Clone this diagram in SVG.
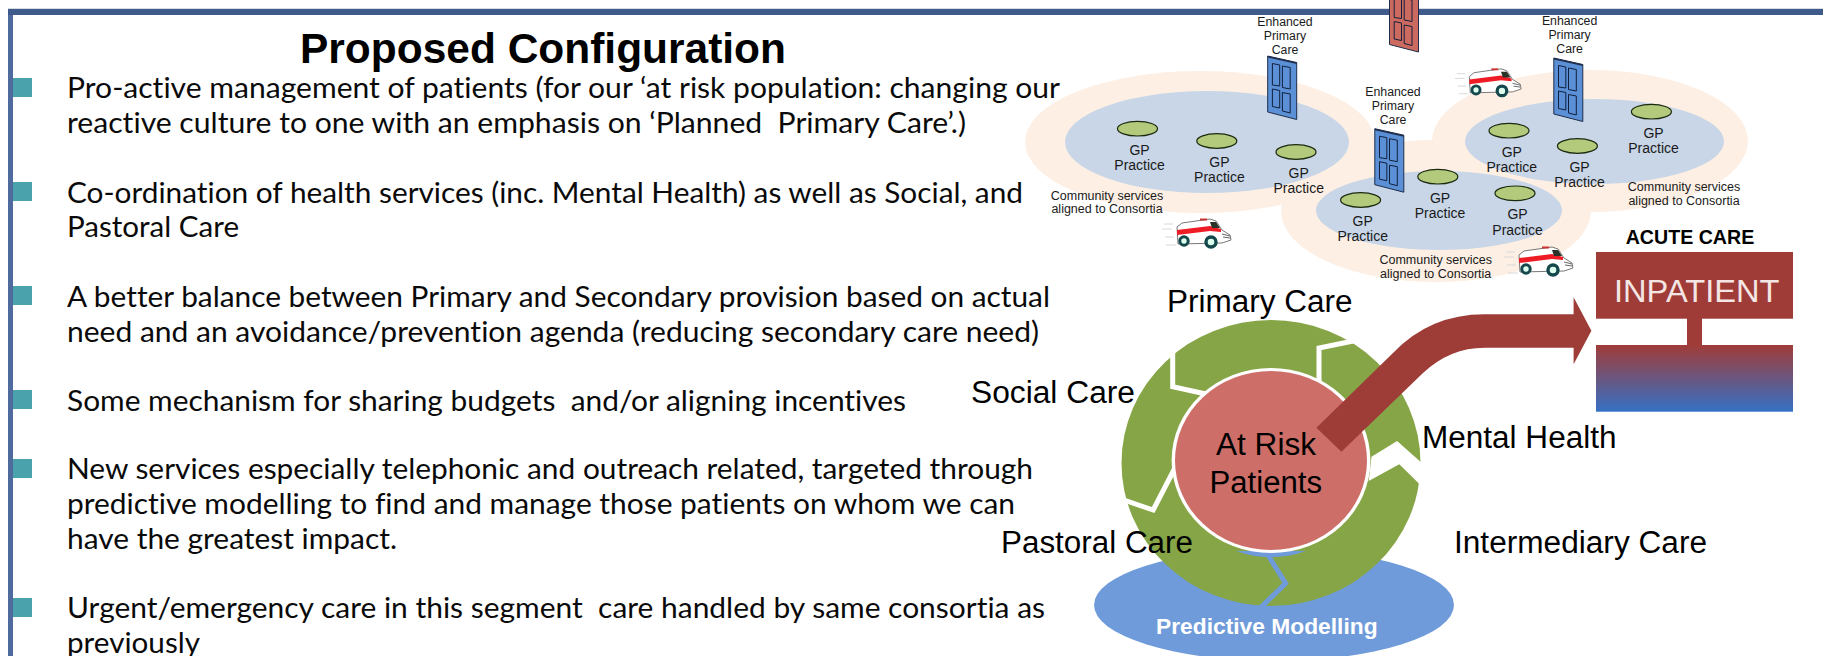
<svg xmlns="http://www.w3.org/2000/svg" width="1823" height="656" viewBox="0 0 1823 656">
<style>
.b{font-family:"Lato","Carlito","Liberation Sans",sans-serif;font-size:28px;fill:#0a0a0a;font-variant-ligatures:none}
.a{font-family:"Liberation Sans",Arial,sans-serif}
.k{fill:#000}
.c{text-anchor:middle;font-size:12.3px;fill:#1a1a1a}
.g{text-anchor:middle;font-size:14px;fill:#1a1a1a}
.s{text-anchor:middle;font-size:12.5px;fill:#1a1a1a}
.l{font-size:31px;fill:#000}
.sq{fill:#4aa3ac}
.peach{fill:#fdefe4}
.inner{fill:#c8d6e7}
.gp{fill:#b3c97c;stroke:#1c2a10;stroke-width:1.2}
.gap{fill:none;stroke:#fff;stroke-width:5;stroke-linejoin:miter}
</style>
<defs>
<linearGradient id="lo" x1="0" y1="0" x2="0" y2="1"><stop offset="0" stop-color="#a03c38"/><stop offset="1" stop-color="#3571c6"/></linearGradient>
<g id="door">
<polygon points="0,0 29,6.500 29,63.500 0,56" stroke="#1f2d4a" stroke-width="1"/>
<polygon points="0,0 29,6.500 29,8 0,1.500" fill="#1f2d4a"/>
<g fill="none" stroke="#10203c" stroke-width="1">
<polygon points="4.700,7.500 12,9 12,30 4.700,29"/>
<polygon points="14.700,10 22.500,11.500 22.500,33 14.700,31.500"/>
<polygon points="4.700,33 12,34.500 12,52 4.700,50.500"/>
<polygon points="14.700,36.500 22.500,38 22.500,57 14.700,55"/>
</g>
</g>
<g id="amb">
<path d="M4 9H13M2 14H12M5 22H14M6 30H16" stroke="#d8d8d8" stroke-width="1" fill="none"/>
<polygon points="17,12 22,8 50,4 56,6 62,15 70,20 71,25 62,28 18,29" fill="#fff" stroke="#555" stroke-width="0.8"/>
<polygon points="17,15 50,11 61,14 61,17 50,16 17,20" fill="#ee1c25"/>
<polygon points="50,7 56,7 60,13 52,13" fill="#2a3328"/>
<rect x="40" y="3.500" width="7" height="2" fill="#c33"/>
<path d="M62 19L70 21M63 22L70 23" stroke="#666" stroke-width="1"/>
<circle cx="24" cy="26" r="4.200" fill="#dfe" stroke="#14484d" stroke-width="3"/>
<circle cx="51" cy="27" r="5" fill="#dfe" stroke="#14484d" stroke-width="3.400"/>
</g>
</defs>

<rect width="1823" height="656" fill="#fff"/>
<rect x="8" y="8" width="1815" height="1.300" fill="#d7dbe2"/>
<rect x="8" y="9" width="5" height="647" fill="#4f6a9c"/>
<rect x="8" y="9" width="1815" height="6" fill="#3f5b8c"/>

<g id="red-door"><use href="#door" transform="translate(1389.500,-11.500)" fill="#cd6a60"/></g>

<g id="consortia-background">
<ellipse class="peach" cx="1200" cy="142" rx="175" ry="71"/>
<ellipse class="peach" cx="1436" cy="211" rx="155" ry="71"/>
<ellipse class="peach" cx="1590" cy="141" rx="158" ry="71"/>
<ellipse class="inner" cx="1207" cy="142" rx="142" ry="51"/>
<ellipse class="inner" cx="1439" cy="210.500" rx="123" ry="39.500"/>
<ellipse class="inner" cx="1594.500" cy="141.500" rx="129.500" ry="42.500"/>
</g>

<g id="door-1"><use href="#door" transform="translate(1267.700,56)" fill="#5b8fd6"/>
<text class="a c"><tspan x="1285" y="26">Enhanced</tspan><tspan x="1285" y="40">Primary</tspan><tspan x="1285" y="54">Care</tspan></text></g>
<g id="door-2"><use href="#door" transform="translate(1553.800,58)" fill="#5b8fd6"/>
<text class="a c"><tspan x="1569.600" y="25">Enhanced</tspan><tspan x="1569.600" y="39">Primary</tspan><tspan x="1569.600" y="53">Care</tspan></text></g>

<g id="gp-1"><ellipse class="gp" cx="1137.500" cy="128.700" rx="20" ry="7.300"/><text class="a g"><tspan x="1139.600" y="155">GP</tspan><tspan x="1139.600" y="170">Practice</tspan></text></g>
<g id="gp-2"><ellipse class="gp" cx="1216.800" cy="141" rx="20" ry="7.300"/><text class="a g"><tspan x="1219.400" y="167">GP</tspan><tspan x="1219.400" y="182">Practice</tspan></text></g>
<g id="gp-3"><ellipse class="gp" cx="1296" cy="152" rx="20" ry="7.300"/><text class="a g"><tspan x="1298.700" y="178">GP</tspan><tspan x="1298.700" y="193">Practice</tspan></text></g>
<g id="gp-4"><ellipse class="gp" cx="1360.600" cy="200" rx="20" ry="7.300"/><text class="a g"><tspan x="1362.700" y="226">GP</tspan><tspan x="1362.700" y="241">Practice</tspan></text></g>
<g id="gp-5"><ellipse class="gp" cx="1437.800" cy="176.700" rx="20" ry="7.300"/><text class="a g"><tspan x="1440" y="203">GP</tspan><tspan x="1440" y="218">Practice</tspan></text></g>
<g id="gp-6"><ellipse class="gp" cx="1515" cy="193.300" rx="20" ry="7.300"/><text class="a g"><tspan x="1517.600" y="219">GP</tspan><tspan x="1517.600" y="234.500">Practice</tspan></text></g>
<g id="gp-7"><ellipse class="gp" cx="1509" cy="130.700" rx="20" ry="7.300"/><text class="a g"><tspan x="1511.800" y="156.700">GP</tspan><tspan x="1511.800" y="172">Practice</tspan></text></g>
<g id="gp-8"><ellipse class="gp" cx="1577.400" cy="146" rx="20" ry="7.300"/><text class="a g"><tspan x="1579.500" y="172">GP</tspan><tspan x="1579.500" y="187">Practice</tspan></text></g>
<g id="gp-9"><ellipse class="gp" cx="1651.400" cy="111.700" rx="20" ry="7.300"/><text class="a g"><tspan x="1653.500" y="137.700">GP</tspan><tspan x="1653.500" y="152.700">Practice</tspan></text></g>

<g id="door-3"><use href="#door" transform="translate(1374.800,128.700)" fill="#5b8fd6"/>
<text class="a c"><tspan x="1393" y="96">Enhanced</tspan><tspan x="1393" y="110">Primary</tspan><tspan x="1393" y="124">Care</tspan></text></g>

<g id="community-labels">
<text class="a s"><tspan x="1107" y="199.500">Community services</tspan><tspan x="1107" y="213">aligned to Consortia</tspan></text>
<text class="a s"><tspan x="1684" y="191">Community services</tspan><tspan x="1684" y="204.500">aligned to Consortia</tspan></text>
<text class="a s"><tspan x="1435.700" y="264">Community services</tspan><tspan x="1435.700" y="278">aligned to Consortia</tspan></text>
</g>

<g id="ambulance-1"><use href="#amb" transform="translate(1160,215)"/></g>
<g id="ambulance-2"><use href="#amb" transform="translate(1453,65) scale(0.96)"/></g>
<g id="ambulance-3"><use href="#amb" transform="translate(1502,243)"/></g>

<g id="title"><text class="a k" x="300" y="63" font-size="42" font-weight="bold" textLength="486" lengthAdjust="spacingAndGlyphs">Proposed Configuration</text></g>

<g id="bullets">
<rect class="sq" x="13" y="78" width="19" height="19"/>
<rect class="sq" x="13" y="182" width="19" height="19"/>
<rect class="sq" x="13" y="286" width="19" height="19"/>
<rect class="sq" x="13" y="390" width="19" height="19"/>
<rect class="sq" x="13" y="459" width="19" height="19"/>
<rect class="sq" x="13" y="598" width="19" height="19"/>
<text class="b" x="67" y="98" textLength="993" lengthAdjust="spacingAndGlyphs">Pro-active management of patients (for our ‘at risk population: changing our</text>
<text class="b" x="67" y="133" textLength="899" lengthAdjust="spacingAndGlyphs" xml:space="preserve">reactive culture to one with an emphasis on ‘Planned  Primary Care’.)</text>
<text class="b" x="67" y="203" textLength="956" lengthAdjust="spacingAndGlyphs">Co-ordination of health services (inc. Mental Health) as well as Social, and</text>
<text class="b" x="67" y="237" textLength="172" lengthAdjust="spacingAndGlyphs">Pastoral Care</text>
<text class="b" x="67" y="307" textLength="983" lengthAdjust="spacingAndGlyphs">A better balance between Primary and Secondary provision based on actual</text>
<text class="b" x="67" y="342" textLength="972" lengthAdjust="spacingAndGlyphs">need and an avoidance/prevention agenda (reducing secondary care need)</text>
<text class="b" x="67" y="411" textLength="839" lengthAdjust="spacingAndGlyphs" xml:space="preserve">Some mechanism for sharing budgets  and/or aligning incentives</text>
<text class="b" x="67" y="479" textLength="966" lengthAdjust="spacingAndGlyphs">New services especially telephonic and outreach related, targeted through</text>
<text class="b" x="67" y="514" textLength="948" lengthAdjust="spacingAndGlyphs">predictive modelling to find and manage those patients on whom we can</text>
<text class="b" x="67" y="549" textLength="330" lengthAdjust="spacingAndGlyphs">have the greatest impact.</text>
<text class="b" x="67" y="618" textLength="978" lengthAdjust="spacingAndGlyphs" xml:space="preserve">Urgent/emergency care in this segment  care handled by same consortia as</text>
<text class="b" x="67" y="653" textLength="133" lengthAdjust="spacingAndGlyphs">previously</text>
</g>

<g id="predictive-modelling">
<ellipse cx="1274" cy="605" rx="180" ry="56" fill="#6f9bda"/>
<text class="a" x="1156" y="634" font-size="22" font-weight="bold" fill="#fff" textLength="221.600" lengthAdjust="spacingAndGlyphs">Predictive Modelling</text>
</g>

<g id="care-ring">
<ellipse cx="1271" cy="463" rx="149.500" ry="143" fill="#86a546"/>
<polyline class="gap" points="1358,340 1319,348 1319,382"/>
<polyline class="gap" points="1172.700,340 1172.700,386.700 1206,394"/>
<polyline class="gap" points="1178,462 1153.200,510 1118,498"/>
<polygon fill="#fff" points="1421.600,462.700 1397.100,441 1371.500,456.700 1368.700,481 1399.300,464.300 1419.400,484 1434.400,484 1434.400,462.700"/>
<polyline fill="none" stroke="#6f9bda" stroke-width="5" points="1266,552 1285.700,583.300 1258,610"/>
<path d="M1236 551H1306A99.400 94.500 0 0 1 1236 551Z" fill="#6f9bda"/>
</g>
<g id="at-risk">
<ellipse cx="1271" cy="460.500" rx="99.400" ry="92.500" fill="#fff"/>
<ellipse cx="1271" cy="460.500" rx="96" ry="89.500" fill="#cd6f68"/>
<text class="a l" x="1216" y="455" textLength="100" lengthAdjust="spacingAndGlyphs">At Risk</text>
<text class="a l" x="1209.500" y="492.700" textLength="112.500" lengthAdjust="spacingAndGlyphs">Patients</text>
</g>

<g id="connectors">
<path fill="#9e3c37" d="M1316.400 427.700L1393 353Q1430 314.300 1484.500 314.300H1573.600V297.300L1591.400 330.700L1573.600 364.300V347.700H1484.500Q1450 347.700 1423 373L1341.400 451.700Z"/>
</g>

<g id="acute-care">
<text class="a k" x="1625.700" y="244" font-size="19.600" font-weight="bold" textLength="128.600" lengthAdjust="spacingAndGlyphs">ACUTE CARE</text>
<rect x="1596" y="252" width="197" height="66.700" fill="#a03c38"/>
<rect x="1687" y="318" width="15" height="28" fill="#a03c38"/>
<rect x="1596" y="345" width="197" height="66.700" fill="url(#lo)"/>
<text class="a" x="1614" y="301.700" font-size="31" fill="#f3e6e4" textLength="165.500" lengthAdjust="spacingAndGlyphs">INPATIENT</text>
</g>

<g id="ring-labels">
<text class="a l" x="1167" y="311.700" textLength="185.500" lengthAdjust="spacingAndGlyphs">Primary Care</text>
<text class="a l" x="971" y="402.700" textLength="164" lengthAdjust="spacingAndGlyphs">Social Care</text>
<text class="a l" x="1422" y="448" textLength="194.500" lengthAdjust="spacingAndGlyphs">Mental Health</text>
<text class="a l" x="1001" y="553" textLength="192" lengthAdjust="spacingAndGlyphs">Pastoral Care</text>
<text class="a l" x="1454" y="553" textLength="253" lengthAdjust="spacingAndGlyphs">Intermediary Care</text>
</g>
</svg>
